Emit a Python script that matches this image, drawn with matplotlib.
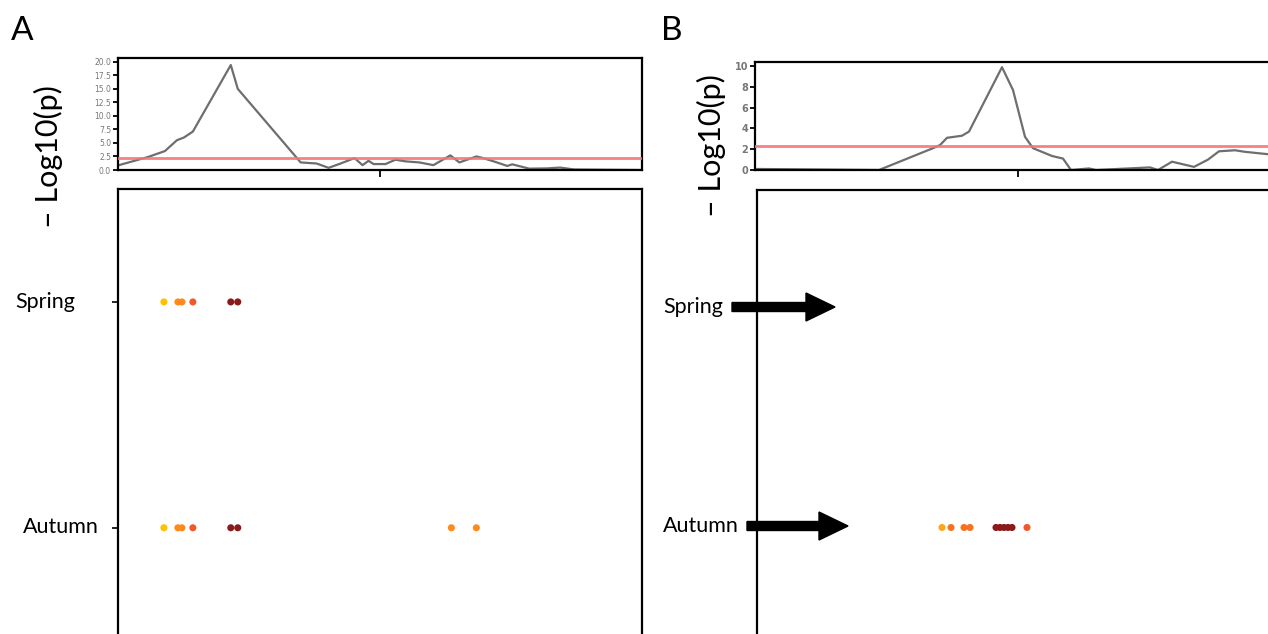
import matplotlib
matplotlib.use("Agg")
import matplotlib.pyplot as plt
from matplotlib.patches import FancyArrow

# ---------------- data ----------------
seasons = ["Spring", "Autumn"]

# Panel A: -log10(p) profile
a_pos = [1, 30, 47, 59, 66, 75, 113, 120, 183, 199, 211, 223, 237, 245, 251, 256,
         268, 278, 288, 302, 316, 333, 342, 359, 364, 378, 390, 395, 412, 430, 443,
         457, 524]
a_logp = [0.9, 2.4, 3.5, 5.5, 6.0, 7.1, 19.4, 15.0, 1.4, 1.2, 0.4, 1.2, 2.2, 0.9,
          1.7, 1.1, 1.1, 1.9, 1.6, 1.4, 0.9, 2.7, 1.4, 2.5, 2.3, 1.5, 0.75, 1.05,
          0.25, 0.3, 0.45, 0.1, 0.0]
a_threshold = 2.3
a_yticks = [0.0, 2.5, 5.0, 7.5, 10.0, 12.5, 15.0, 17.5, 20.0]

# Panel B: -log10(p) profile
b_pos = [0, 66, 124, 178, 185, 192, 207, 214, 247, 258, 270, 278, 297, 308, 316,
         334, 341, 395, 403, 417, 439, 453, 464, 480, 490, 525]
b_logp = [0.1, 0.05, 0.0, 2.1, 2.4, 3.1, 3.3, 3.7, 9.9, 7.7, 3.2, 2.1, 1.35, 1.1,
          0.0, 0.15, 0.0, 0.25, 0.0, 0.8, 0.3, 1.0, 1.8, 1.9, 1.75, 1.4]
b_threshold = 2.35
b_yticks = [0, 2, 4, 6, 8, 10]

marker_pos = 263

# Significant markers (position, season index, colour)
a_dot_pos = [46, 60, 64, 75, 113, 120,
             46, 60, 64, 75, 113, 120, 334, 359]
a_dot_season = [0, 0, 0, 0, 0, 0,
                1, 1, 1, 1, 1, 1, 1, 1]
a_dot_color = ["#FFC000", "#FF8A1C", "#FF8A1C", "#F2592A", "#8B1A1A", "#8B1A1A",
               "#FFC000", "#FF8A1C", "#FF8A1C", "#F2592A", "#8B1A1A", "#8B1A1A",
               "#FF8A1C", "#FF8A1C"]

b_dot_pos = [185, 194, 207, 213, 239, 243, 247, 251, 255, 270]
b_dot_season = [1, 1, 1, 1, 1, 1, 1, 1, 1, 1]
b_dot_color = ["#FFA51A", "#F9731E", "#F9731E", "#F9731E", "#8B1A1A", "#8B1A1A",
               "#8B1A1A", "#8B1A1A", "#8B1A1A", "#F2592A"]

# ---------------- figure ----------------
W, H = 1268, 634
fig = plt.figure(figsize=(W / 100, H / 100), dpi=100)

def box(l, t, r, b):
    return [l / W, 1 - b / H, (r - l) / W, (b - t) / H]

label_font = "Lato"

def style_top(ax, yticks, fmt, fsize, weight):
    ax.set_xlim(0, 525)
    for s in ax.spines.values():
        s.set_linewidth(1.6)
    ax.set_yticks(yticks)
    ax.set_yticklabels([fmt.format(v) for v in yticks], fontsize=fsize,
                       color="#777777", family="DejaVu Sans", fontweight=weight)
    ax.tick_params(axis="y", length=3.5, width=1.3, pad=1.5)
    ax.set_xticks([marker_pos])
    ax.set_xticklabels([])
    ax.tick_params(axis="x", length=5, width=1.3)

def style_bottom(ax, ylim):
    ax.set_xlim(0, 525)
    ax.set_ylim(*ylim)
    for s in ax.spines.values():
        s.set_linewidth(1.6)
    ax.set_xticks([])
    ax.set_yticks([0, 1])
    ax.set_yticklabels([])
    ax.tick_params(axis="y", length=4, width=1.2)

# Panel A
axA = fig.add_axes(box(118, 58, 642, 170))
axA.plot(a_pos, a_logp, color="#6e6e6e", lw=1.6, zorder=2)
axA.axhline(a_threshold, color="#F47474", lw=2.0, alpha=0.9, zorder=3)
axA.set_ylim(0, 20.7)
style_top(axA, a_yticks, "{:.1f}", 5.5, "normal")

axA2 = fig.add_axes(box(118, 189, 642, 652))
axA2.scatter(a_dot_pos, a_dot_season, c=a_dot_color, s=26, marker="o", linewidths=0)
style_bottom(axA2, (1.55, -0.5))

# Panel B
axB = fig.add_axes(box(755, 62, 1280, 170))
axB.plot(b_pos, b_logp, color="#6e6e6e", lw=1.6, zorder=2)
axB.axhline(b_threshold, color="#F47474", lw=2.0, alpha=0.9, zorder=3)
axB.set_ylim(0, 10.4)
style_top(axB, b_yticks, "{:d}", 7, "bold")

axB2 = fig.add_axes(box(757, 190, 1282, 652))
axB2.scatter(b_dot_pos, b_dot_season, c=b_dot_color, s=26, marker="o", linewidths=0)
style_bottom(axB2, (1.566, -0.534))

# Panel letters
fig.text(11 / W, 1 - 31 / H, "A", fontsize=24, family=label_font, va="center", ha="left")
fig.text(661 / W, 1 - 31 / H, "B", fontsize=24, family=label_font, va="center", ha="left")

# Y labels
fig.text(48 / W, 1 - 157 / H, "– Log10(p)", fontsize=22, family=label_font,
         rotation=90, va="center", ha="center")
fig.text(711 / W, 1 - 146 / H, "– Log10(p)", fontsize=22, family=label_font,
         rotation=90, va="center", ha="center")

# Season labels
fig.text(15 / W, 1 - 302 / H, seasons[0], fontsize=15.5, family=label_font, va="center", ha="left")
fig.text(23 / W, 1 - 527 / H, seasons[1], fontsize=15.5, family=label_font, va="center", ha="left")
fig.text(663 / W, 1 - 307 / H, seasons[0], fontsize=15.5, family=label_font, va="center", ha="left")
fig.text(663 / W, 1 - 526 / H, seasons[1], fontsize=15.5, family=label_font, va="center", ha="left")

# Arrows in panel B
def arrow(x0, x1, y):
    fx0, fx1, fy = x0 / W, x1 / W, 1 - y / H
    a = FancyArrow(fx0, fy, fx1 - fx0, 0, width=9 / H, head_width=28 / H,
                   head_length=29 / W, length_includes_head=True,
                   color="black", transform=fig.transFigure, zorder=10)
    fig.patches.append(a)

arrow(732, 835, 307)
arrow(747, 848, 526)

fig.savefig("out.png", dpi=100)
